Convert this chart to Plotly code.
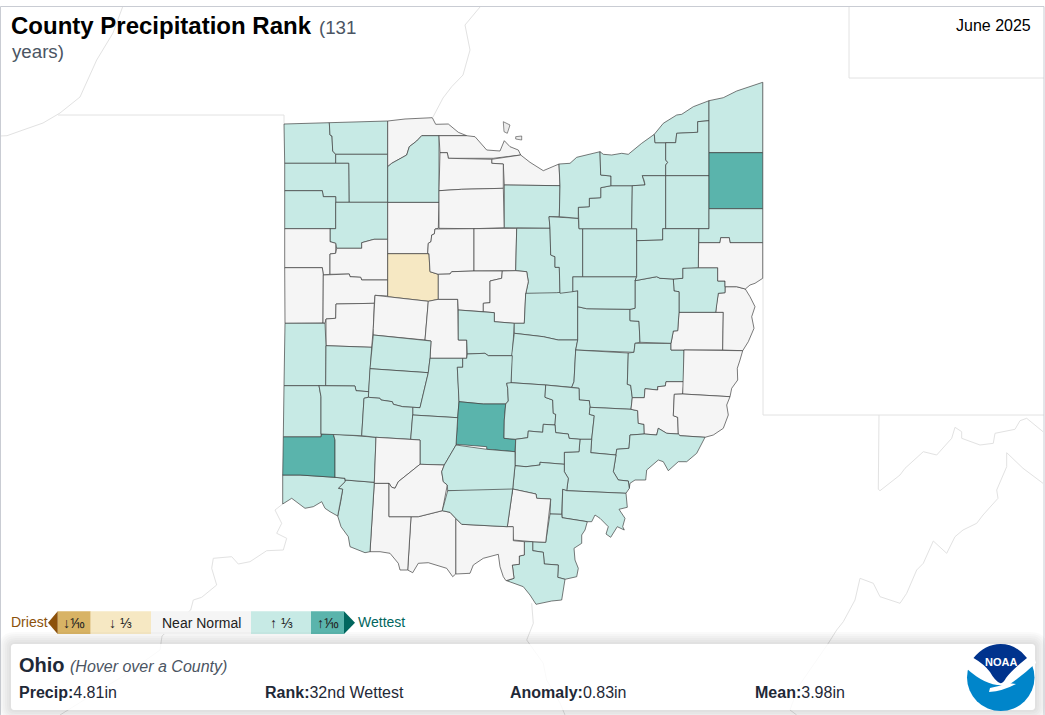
import plotly.graph_objects as go

# counties by rank class (June 2025)
dry_third = ["Hardin"]
wet_tenth = ["Trumbull", "Pickaway", "Butler"]
near_normal = ["Lucas", "Ottawa", "Erie", "Sandusky", "Seneca", "Hancock", "Wyandot", "Crawford",
               "Van Wert", "Mercer", "Allen", "Auglaize", "Shelby", "Logan", "Union", "Marion",
               "Morrow", "Columbiana", "Harrison", "Jefferson", "Belmont", "Monroe", "Noble",
               "Clinton", "Highland", "Brown", "Adams", "Scioto", "Jackson"]

# county outlines, in picture pixels
county_outlines = {
    "Williams": [(284, 124), (329.3, 122.7), (330, 135), (332, 136), (332.7, 151), (335.7, 154.3), (335.7, 163.3), (284.7, 163.3)],
    "Fulton": [(329.3, 122.7), (387.7, 121), (387.7, 154.3), (335.7, 154.3), (332.7, 151), (332, 136), (330, 135)],
    "Henry": [(335.7, 154.3), (387.7, 154.3), (387.7, 202.3), (349, 202.3), (348.7, 163.3), (335.7, 163.3)],
    "Defiance": [(284.7, 163.3), (348.7, 163.3), (349, 202.3), (335.7, 202.3), (335.7, 196.7), (323.3, 196.7), (322.3, 190.7), (284.7, 190.7)],
    "Paulding": [(284.7, 190.7), (322.3, 190.7), (323.3, 196.7), (335.7, 196.7), (335.7, 228.7), (284.7, 228.7)],
    "Putnam": [(335.7, 202.3), (387.7, 202.3), (387.7, 239.3), (374, 239.3), (361.7, 242.7), (361.7, 248.3), (336.7, 248.3), (335.7, 243.3), (330, 241.7), (330, 228.7), (335.7, 228.7)],
    "Van Wert": [(284.7, 228.7), (330, 228.7), (330, 241.7), (335.7, 243.3), (335.7, 253.3), (330, 254), (330, 274.3), (323.3, 275), (322.3, 267.7), (284.7, 267.7)],
    "Allen": [(335.7, 253.3), (336.7, 248.3), (361.7, 248.3), (361.7, 242.7), (374, 239.3), (387.7, 239.3), (387.7, 280), (361.7, 280), (360.7, 277.3), (350, 276.7), (349.3, 274), (330, 274.3), (330, 254)],
    "Mercer": [(284.7, 267.7), (322.3, 267.7), (323.3, 275), (323, 323), (285, 323.3)],
    "Auglaize": [(323.3, 275), (349.3, 274), (350, 276.7), (360.7, 277.3), (361.7, 280), (387.7, 280), (387.7, 296), (375, 295.3), (374.3, 303.3), (336, 304), (335.7, 318.3), (326, 319), (325, 323.3), (323, 323)],
    "Hancock": [(387.7, 202.3), (439, 202.3), (438.3, 228.3), (435, 229), (434.3, 234), (431.7, 235), (431, 241.7), (428.3, 243.3), (427.7, 253.7), (387.7, 253.7)],
    "Hardin": [(387.7, 253.7), (429, 253.7), (430, 271.7), (438.3, 274.3), (438.3, 299.3), (428.3, 301.3), (387.7, 296.7)],
    "Lucas": [(387.7, 121), (405, 119), (432.3, 117.7), (435.7, 124.3), (448.3, 124), (458.3, 132.3), (466.7, 135.7), (439, 135.7), (421.7, 135.7), (416.7, 141), (409.3, 146.7), (406.7, 155), (391.7, 163.3), (387.7, 166.7)],
    "Wood": [(387.7, 166.7), (391.7, 163.3), (406.7, 155), (409.3, 146.7), (416.7, 141), (421.7, 135.7), (439, 135.7), (439, 202.3), (387.7, 202.3)],
    "Ottawa": [(439, 135.7), (466.7, 135.7), (475, 136.7), (486.7, 150), (500, 151), (504.3, 140.7), (510, 146.7), (518.3, 150), (520.7, 155), (493.3, 158.3), (448.3, 158.3), (447.3, 152.7), (440, 152.7)],
    "Erie": [(491.7, 159.3), (520.7, 155), (530, 162.3), (543.3, 170.7), (559, 164), (560, 185.7), (504.3, 185), (503.3, 164), (491.7, 163.3)],
    "Sandusky": [(440, 152.7), (447.3, 152.7), (448.3, 158.3), (491.7, 159.3), (491.7, 163.3), (503.3, 164), (503.3, 188.3), (461.7, 189.3), (439, 190.7)],
    "Seneca": [(439, 190.7), (461.7, 189.3), (503.3, 188.3), (504.3, 227.7), (474, 228.7), (439, 228.3)],
    "Wyandot": [(435, 229), (474, 228.7), (474, 271), (451.7, 271.7), (450, 274), (438.3, 274.3), (430, 271.7), (429, 253.7), (427.7, 253.7), (428.3, 243.3), (431, 241.7), (431.7, 235), (434.3, 234)],
    "Crawford": [(474, 228.7), (516.7, 228.3), (515.7, 270.7), (474, 271)],
    "Huron": [(504.3, 185), (560, 185.7), (559.3, 216.7), (549, 216.7), (550, 228.3), (516.7, 228.3), (504.3, 227.7)],
    "Richland": [(516.7, 228.3), (550, 228.3), (550.7, 255), (555, 256.7), (555, 267.3), (559.3, 267.3), (560, 293.3), (525.7, 294), (528.3, 281.7), (526.7, 271.7), (515.7, 270.7)],
    "Shelby": [(336, 304), (374.3, 303.3), (373.3, 328.3), (371.7, 347.3), (326, 345.7), (326, 319), (335.7, 318.3)],
    "Logan": [(375, 295.3), (387.7, 296.7), (428.3, 301.3), (425, 340), (398.3, 337.7), (373.3, 335), (373.3, 328.3), (374.3, 303.3)],
    "Union": [(428.3, 301.3), (438.3, 299.3), (457.7, 299.3), (458.3, 340), (466.7, 340), (466.7, 358.3), (430, 358.3), (431, 341), (425, 340)],
    "Marion": [(438.3, 274.3), (450, 274), (451.7, 271.7), (474, 271), (502.3, 271), (501.7, 278.3), (490, 281), (490, 302.7), (483.3, 303.3), (483.3, 311.7), (458.3, 310), (457.7, 299.3), (438.3, 299.3)],
    "Morrow": [(502.3, 271), (515.7, 270.7), (526.7, 271.7), (528.3, 281.7), (525.7, 294), (524.3, 323.3), (514.3, 323.3), (494.3, 321.7), (494.3, 312.7), (483.3, 311.7), (483.3, 303.3), (490, 302.7), (490, 281), (501.7, 278.3)],
    "Delaware": [(458.3, 310), (483.3, 311.7), (494.3, 312.7), (494.3, 321.7), (514.3, 323.3), (512.3, 355.7), (488.3, 355.7), (485, 353.3), (467.3, 354), (466.7, 340), (458.3, 340)],
    "Knox": [(525.7, 293.3), (556.7, 292.7), (577.7, 290.7), (577.7, 306.7), (577.7, 340), (558.3, 340), (543.3, 336.7), (514.3, 333.3), (514.3, 323.3), (524.3, 323.3)],
    "Licking": [(514.3, 333.3), (543.3, 336.7), (558.3, 340), (577.7, 340), (575.7, 350), (574, 381.7), (571.7, 387.3), (545.7, 385), (511, 382.7), (511.7, 355)],
    "Coshocton": [(577.7, 306.7), (586.7, 308.7), (630, 309.3), (630, 320.7), (639, 321.3), (640, 342.3), (635, 343.3), (634, 352.3), (575.7, 350), (577.7, 340)],
    "Muskingum": [(575.7, 350), (628.3, 353), (627.3, 384.3), (630.7, 385.3), (632.3, 397.7), (631, 409.3), (590, 407.3), (589.3, 400.7), (579.3, 400), (579, 388.3), (571.7, 387.3), (574, 381.7)],
    "Guernsey": [(634, 352.3), (635, 343.3), (671, 343.3), (671, 350), (684, 350), (684, 381.7), (666, 381.7), (665.3, 386), (657.7, 386.7), (657.7, 390), (645, 388.7), (644.3, 397.7), (632.3, 397.7), (630.7, 385.3), (627.3, 384.3), (628.3, 353)],
    "Harrison": [(679, 312.3), (723.3, 312.3), (722.7, 350), (671, 350), (671, 343.3), (673.3, 331), (677.7, 330.7)],
    "Jefferson": [(725, 286.7), (736.7, 286.7), (745.3, 289), (750, 296.7), (755, 306.7), (751.7, 316.7), (754, 328.3), (748.3, 341.7), (742.7, 350.7), (722.7, 350), (723.3, 312.3), (715.7, 312.3), (716.7, 303.3), (718.3, 293.3), (725, 292.7)],
    "Carroll": [(682.7, 268.3), (686.7, 267.7), (717.7, 267.7), (717.7, 281), (725, 281), (725, 292.7), (718.3, 293.3), (716.7, 303.3), (715.7, 312.3), (679, 312.3), (679, 291.7), (674, 291), (673.3, 279), (682.7, 278.3)],
    "Tuscarawas": [(635, 280.7), (656.7, 276.7), (660, 278.3), (673.3, 279), (674, 291), (679, 291.7), (679, 312.3), (677.7, 330.7), (673.3, 331), (671, 343.3), (640, 342.3), (639, 321.3), (630, 320.7), (630, 309.3), (635, 308.3)],
    "Holmes": [(572.7, 276.7), (636.7, 276.7), (635, 280.7), (635, 308.3), (630, 309.3), (586.7, 308.7), (577.7, 306.7), (577.7, 290.7), (572.7, 291.7)],
    "Ashland": [(549, 216.7), (578.3, 218.3), (579, 228.7), (582.7, 228.7), (582.7, 276.7), (572.7, 276.7), (572.7, 291.7), (560, 293.3), (559.3, 267.3), (555, 267.3), (555, 256.7), (550.7, 255), (550, 228.3)],
    "Wayne": [(582.7, 228.7), (636.7, 228.7), (636.7, 276.7), (582.7, 276.7)],
    "Medina": [(578.3, 207.3), (589.3, 206.7), (589.3, 198.3), (600.7, 197.7), (600.7, 187.7), (611, 185.7), (632.3, 185.7), (631.7, 228.7), (579, 228.7)],
    "Lorain": [(559, 164), (570, 163.3), (576.7, 157.3), (600, 151.7), (600.7, 175), (611, 176), (611, 185.7), (600.7, 187.7), (600.7, 197.7), (589.3, 198.3), (589.3, 206.7), (578.3, 207.3), (578.3, 218.3), (559.3, 216.7), (560, 185.7)],
    "Cuyahoga": [(600, 151.7), (603.3, 154.3), (611.7, 155), (621.7, 153.3), (628.3, 154.3), (641.7, 143.3), (654.3, 134.3), (655, 142.7), (665.7, 142.7), (665.7, 160), (667.7, 162.3), (665.7, 165), (665.7, 175.7), (642.3, 175.7), (645, 185), (632.3, 185.7), (611, 185.7), (611, 176), (600.7, 175)],
    "Summit": [(642.3, 175.7), (665.7, 175.7), (665.7, 228.7), (662.7, 228.7), (662.7, 240), (636.7, 240.7), (636.7, 228.7), (631.7, 228.7), (632.3, 185.7), (645, 185), (644.3, 181)],
    "Lake": [(654.3, 134.3), (663.3, 123.3), (676.7, 115), (681.7, 114.3), (693.3, 106.7), (709, 100.7), (709, 120.7), (697.7, 121.7), (697.7, 132.3), (676.7, 133.3), (675.7, 142.7), (655, 142.7)],
    "Geauga": [(665.7, 142.7), (675.7, 142.7), (676.7, 133.3), (697.7, 132.3), (697.7, 121.7), (709, 120.7), (709, 175.7), (665.7, 175.7), (665.7, 165), (667.7, 162.3), (665.7, 160)],
    "Portage": [(665.7, 175.7), (709, 175.7), (709, 228.7), (665.7, 228.7)],
    "Ashtabula": [(709, 100.7), (723.3, 97.7), (736.7, 91), (762.7, 82.3), (762.7, 152.7), (709, 152.7)],
    "Trumbull": [(709, 152.7), (762.7, 152.7), (762.7, 208.7), (709, 208.7)],
    "Mahoning": [(709, 208.7), (762.7, 208.7), (762.7, 242.7), (730, 242.7), (729.3, 237.7), (720.7, 237.7), (720, 242.7), (698.7, 242.7), (698.7, 228.7), (709, 228.7)],
    "Columbiana": [(698.7, 242.7), (720, 242.7), (720.7, 237.7), (729.3, 237.7), (730, 242.7), (762.7, 242.7), (762.7, 278.3), (755, 283.3), (750, 285), (745.3, 289), (736.7, 286.7), (725, 286.7), (725, 281), (717.7, 281), (717.7, 267.7), (698.3, 267.7)],
    "Stark": [(636.7, 240.7), (662.7, 240), (662.7, 228.7), (698.7, 228.7), (698.3, 267.7), (686.7, 267.7), (682.7, 268.3), (682.7, 278.3), (673.3, 279), (660, 278.3), (656.7, 276.7), (635, 280.7), (636.7, 276.7)],
    "Darke": [(285, 323.3), (325, 323.3), (326, 345.7), (325.7, 385.7), (319, 385.7), (284, 385.7)],
    "Miami": [(326, 345.7), (371.7, 347.3), (368.7, 391.7), (356, 390.7), (355, 386), (325.7, 385.7)],
    "Champaign": [(373.3, 335), (398.3, 337.7), (425, 340), (431, 341), (430, 358.3), (428.3, 372.7), (370, 368.7)],
    "Clark": [(370, 368.7), (428.3, 372.7), (420, 407.7), (412.7, 407.3), (402.7, 406.7), (393.3, 404.3), (392.3, 401.7), (381, 400), (380, 398.3), (368.3, 397.3), (368.7, 391.7)],
    "Madison": [(430, 358.3), (462.7, 358.3), (462.7, 367.3), (457.3, 367.3), (458.3, 385), (459, 401.7), (457.7, 417.7), (412.7, 415), (412.7, 407.3), (420, 407.7), (428.3, 372.7)],
    "Franklin": [(462.7, 358.3), (466.7, 358.3), (467.3, 354), (485, 353.3), (488.3, 355.7), (512.3, 355.7), (511, 383.3), (506.7, 383.3), (507.7, 388.3), (508.3, 401), (505.7, 404), (483.3, 404), (459, 401.7), (458.3, 385), (457.3, 367.3), (462.7, 367.3)],
    "Pickaway": [(459, 401.7), (483.3, 404), (505.7, 404), (504.3, 420), (504, 438.3), (515.7, 439.3), (515, 451.7), (486.7, 449.3), (486.7, 446.7), (456, 444.3), (457.7, 417.7)],
    "Fairfield": [(511, 382.7), (545.7, 385), (545, 397.3), (552.7, 400), (553.3, 413.3), (555.7, 414.3), (555, 425), (543.3, 424.3), (542.7, 432.3), (528.3, 431), (527.7, 437.7), (515.7, 439.3), (504, 438.3), (504.3, 420), (505.7, 404), (508.3, 401), (507.7, 388.3), (506.7, 383.3)],
    "Perry": [(545.7, 385), (571.7, 387.3), (579, 388.3), (579.3, 400), (589.3, 400.7), (590, 407.3), (589.3, 414.3), (594.3, 415.7), (591.7, 439.3), (580, 439.3), (569, 438.3), (568.3, 434), (555.7, 432.7), (555, 425), (555.7, 414.3), (553.3, 413.3), (552.7, 400), (545, 397.3)],
    "Morgan": [(590, 407.3), (631, 409.3), (637.7, 410.7), (638.3, 423.3), (644, 424.3), (644.3, 434), (630, 435), (629, 448.3), (616.7, 449.3), (616, 455), (590.7, 452.7), (591.7, 439.3), (594.3, 415.7), (589.3, 414.3)],
    "Noble": [(632.3, 397.7), (644.3, 397.7), (645, 388.7), (657.7, 390), (657.7, 386.7), (665.3, 386), (666, 381.7), (684, 381.7), (682.7, 394), (674.3, 394.3), (673.3, 415.7), (677.7, 417.3), (678.3, 434), (666.7, 433.3), (658.3, 428.3), (656.7, 435), (644.3, 434), (644, 424.3), (638.3, 423.3), (637.7, 410.7), (631, 409.3)],
    "Belmont": [(684, 350), (742.7, 350.7), (740, 360), (737.3, 368.3), (737.7, 380), (731.7, 388.3), (730, 396.7), (682.7, 394)],
    "Monroe": [(674.3, 394.3), (682.7, 394), (730, 396.7), (726.7, 405), (728.3, 415), (723.3, 428.3), (713.3, 435), (705, 437.3), (680, 435.7), (678.3, 434), (677.7, 417.3), (673.3, 415.7)],
    "Washington": [(630, 435), (644.3, 434), (656.7, 435), (658.3, 428.3), (666.7, 433.3), (678.3, 434), (680, 435.7), (705, 437.3), (696.7, 453.3), (686.7, 461.7), (678.3, 461.7), (668.3, 470.7), (663.3, 461.7), (658.3, 460), (646.7, 470), (645.7, 480), (635, 480), (630, 483.3), (629.3, 488.3), (628.3, 481), (618.3, 480), (613.3, 471.7), (616, 455), (616.7, 449.3), (629, 448.3)],
    "Athens": [(580, 439.3), (591.7, 439.3), (590.7, 452.7), (616, 455), (613.3, 471.7), (618.3, 480), (628.3, 481), (629.3, 488.3), (626, 493.3), (566.7, 490.7), (568.3, 478.3), (564.3, 471.7), (564.3, 452.3), (579, 451.7)],
    "Hocking": [(515.7, 439.3), (527.7, 437.7), (528.3, 431), (542.7, 432.3), (543.3, 424.3), (555, 425), (555.7, 432.7), (568.3, 434), (569, 438.3), (580, 439.3), (579, 451.7), (564.3, 452.3), (564.3, 464.3), (540, 462.3), (540, 465), (526, 466.7), (515, 465.7), (515, 451.7)],
    "Vinton": [(515, 465.7), (526, 466.7), (540, 465), (540, 462.3), (564.3, 464.3), (564.3, 471.7), (568.3, 478.3), (566.7, 490.7), (562.7, 489.3), (561.7, 514.3), (550, 514), (550.7, 499), (536.7, 498.3), (536, 494), (512.7, 489)],
    "Meigs": [(562.7, 489.3), (566.7, 490.7), (626, 493.3), (627.3, 507.3), (619, 509.3), (625, 518.3), (622.7, 526.7), (624.3, 530), (617.3, 526.7), (610.7, 537.3), (606, 534), (608.3, 526.7), (600, 518.3), (595, 515), (591.7, 521.7), (587.3, 521.7), (562, 517.7)],
    "Gallia": [(550, 514), (561.7, 514.3), (562, 517.7), (587.3, 521.7), (585, 530), (581.7, 535), (581.7, 543.3), (574, 548.3), (575, 560), (578.3, 568.3), (576.7, 576.7), (565, 579.3), (557.7, 577.3), (558.3, 565), (544.3, 564), (543.3, 552.3), (532.7, 550.7), (532.7, 541.7), (545.7, 542.3)],
    "Jackson": [(512.7, 489), (536, 494), (536.7, 498.3), (550.7, 499), (545.7, 542.3), (532.7, 541.7), (513.3, 540), (512.7, 526.7), (507.3, 526.7)],
    "Lawrence": [(524.3, 541.7), (532.7, 541.7), (532.7, 550.7), (543.3, 552.3), (544.3, 564), (558.3, 565), (557.7, 577.3), (565, 579.3), (561.7, 600), (551.7, 601), (536, 604.3), (530, 595), (523.3, 586.7), (506.7, 580.7), (514, 578.3), (512.3, 565), (519.3, 564.3), (519.3, 556), (524.3, 555)],
    "Scioto": [(455.7, 518.3), (461.7, 524.3), (506.7, 526.7), (513.3, 526.7), (513.3, 540.7), (524.3, 541.7), (524.3, 555), (519.3, 556), (519.3, 564.3), (512.3, 565), (514, 578.3), (506, 580.7), (503.3, 576.7), (500, 566.7), (498.3, 554.3), (483.3, 558.3), (473.3, 565), (470, 573.3), (455.7, 574)],
    "Adams": [(411, 516.7), (418.3, 516.7), (442.3, 510.7), (450, 512.3), (455.7, 518.3), (455.7, 574), (452.7, 576.7), (446.7, 568.3), (428.3, 562.7), (418.3, 563.3), (412.7, 572.7), (407.7, 570)],
    "Brown": [(374.3, 483.3), (389, 483.3), (389, 516.7), (411, 516.7), (407.7, 570), (400, 570), (398.3, 563.3), (390, 553.3), (380, 551.7), (370, 551.7)],
    "Clermont": [(345, 480), (374.3, 482.3), (370, 551.7), (365, 552.7), (350, 546.7), (348.3, 536.7), (341, 526.7), (337.7, 516), (340.7, 501.7), (342.7, 489.3), (338.3, 488.3), (345, 481.7)],
    "Hamilton": [(282.7, 475), (300, 475), (335, 477.3), (345, 478.3), (345, 481.7), (338.3, 488.3), (342.7, 489.3), (340.7, 501.7), (337.7, 516), (330, 511.7), (325, 508.3), (321.7, 501.7), (313.3, 506.7), (305, 508.3), (291.7, 498.3), (282.7, 504)],
    "Butler": [(283.3, 436.7), (321, 436.7), (321.7, 434), (333.3, 434), (335, 440), (335, 477.3), (300, 475), (282.7, 475)],
    "Warren": [(333.3, 434), (361.7, 435.7), (376, 437.3), (374.3, 482.3), (345, 480), (345, 478.3), (335, 477.3), (335, 440)],
    "Preble": [(284, 385.7), (319, 385.7), (321, 396.7), (321, 436.7), (283.3, 436.7)],
    "Montgomery": [(319, 385.7), (355, 386), (356, 390.7), (368.7, 391.7), (368.3, 397.3), (364, 398.3), (361.7, 435.7), (333.3, 434), (321, 434), (321, 396.7)],
    "Greene": [(364, 398.3), (368.3, 397.3), (380, 398.3), (381, 400), (392.3, 401.7), (393.3, 404.3), (402.7, 406.7), (412.7, 407.3), (412.7, 415), (410.7, 439.3), (376, 437.3), (361.7, 435.7)],
    "Fayette": [(412.7, 415), (457.7, 417.7), (456, 445), (444.3, 465), (420, 464.3), (420, 440), (410.7, 439.3)],
    "Clinton": [(376, 437.3), (410.7, 439.3), (420, 440), (420, 464.3), (398.3, 481.7), (395, 488.3), (391.7, 487.3), (389, 483.3), (374.3, 483.3)],
    "Highland": [(420, 464.3), (444.3, 465), (441.7, 471.7), (443.3, 481.7), (447.3, 485), (442.3, 510.7), (418.3, 516.7), (389, 516.7), (389, 483.3), (391.7, 487.3), (395, 488.3), (398.3, 481.7)],
    "Ross": [(456, 445), (486.7, 449.3), (515, 451.7), (515, 465.7), (512.7, 489), (511.7, 494.3), (447.7, 490.7), (447.3, 485), (443.3, 481.7), (441.7, 471.7), (444.3, 465)],
    "Pike": [(447.7, 490.7), (512.7, 489), (507.3, 526.7), (461.7, 524.3), (455.7, 518.3), (450, 512.3), (442.3, 510.7)],
}

# lake erie islands
island_a = [(503.3, 121.7), (510, 125), (507.3, 133.3), (504, 131.7)]
island_b = [(515.7, 136.7), (521.7, 136), (521.7, 140), (515.7, 139)]

# neighbouring state lines
indiana_top = [(58, 115), (284, 115), (284, 124)]
lake_michigan = [(122.7, 6.7), (113, 33), (96.7, 60), (88, 80), (80, 97), (60, 113), (43, 123), (23, 130), (7, 135.7), (0, 136)]
michigan_shore = [(433, 117), (443, 98), (451.7, 86.7), (463, 75), (470, 50), (465, 25), (480, 7)]
new_york = [(849, 7), (849, 78), (1044, 78)]
pennsylvania = [(763, 82), (763, 415), (1044, 415)]
west_virginia = [(879, 415), (878.3, 489.3), (880, 490.7), (900, 475), (905, 468.3), (923.3, 451.7), (936.7, 455), (951.7, 438.3),
                 (955, 427.3), (961.7, 431.7), (961.7, 438.3), (980, 445), (993.3, 443.3), (995, 433.3), (1015, 429.3), (1020, 420.7),
                 (1026.7, 418.3), (1043, 431.7)]
virginia = [(1043, 483.3), (1023, 468.3), (1006.7, 452.7), (1006.7, 466.7), (996.7, 490), (998, 498.3), (983, 515), (976.7, 523.3),
            (963, 530), (955, 536.7), (946.7, 553.3), (933.3, 541), (923.3, 563.3), (916.7, 570), (906.7, 593.3), (900, 603.3),
            (880, 596.7), (873.3, 583.3), (860, 578.3), (855, 600), (843.3, 621.7), (836.7, 630), (828.3, 643.3), (798.3, 686.7),
            (790, 710), (796.7, 715)]
kentucky = [(282.7, 504), (275, 510), (281.7, 523.3), (276.7, 533.3), (286.7, 538.3), (283.3, 550), (266.7, 550.7), (250, 561.7),
            (238.3, 564), (231.7, 556.7), (213.3, 558.3), (211.7, 568.3), (216.7, 585), (201.7, 597.3), (193.3, 600), (190.7, 610),
            (162, 636), (160, 650), (125, 675), (100, 690), (60, 715)]
kentucky_east = [(531.7, 603.3), (533.3, 623.3), (526.7, 640), (543.3, 663.3), (546.7, 680), (560, 703), (565, 715)]
state_lines = [indiana_top, lake_michigan, michigan_shore, new_york, pennsylvania, west_virginia, virginia, kentucky, kentucky_east]

# legend
legend_labels = ["↓⅒", "↓ ⅓", "Near Normal", "↑ ⅓", "↑⅒"]
legend_colors = ["#d8b365", "#f6e8c3", "#f5f5f5", "#c7eae5", "#5ab4ac"]
legend_edges = [57.7, 90.7, 151, 251, 311, 344]

# info panel
panel_labels = ["Precip:", "Rank:", "Anomaly:", "Mean:"]
panel_values = ["4.81in", "32nd Wettest", "0.83in", "3.98in"]
panel_left = [18, 264, 509, 754]

FONT = "Liberation Sans, Arial, sans-serif"
W, H = 1045, 715


def county_color(name):
    if name in wet_tenth:
        return "#5ab4ac"
    if name in dry_third:
        return "#f6e8c3"
    if name in near_normal:
        return "#f5f5f5"
    return "#c7eae5"


def label(x, y, text, size=16, color="#1f2937", anchor="left"):
    return dict(x=x, y=y, text=text, xref="x", yref="y", showarrow=False, xanchor=anchor, yanchor="middle",
                font=dict(family=FONT, size=size, color=color), borderpad=0)


def rounded_rect(x0, y0, x1, y1, r):
    return (f"M{x0+r},{y0} L{x1-r},{y0} Q{x1},{y0} {x1},{y0+r} L{x1},{y1-r} Q{x1},{y1} {x1-r},{y1} "
            f"L{x0+r},{y1} Q{x0},{y1} {x0},{y1-r} L{x0},{y0+r} Q{x0},{y0} {x0+r},{y0} Z")


fig = go.Figure()

for line in state_lines:
    fig.add_trace(go.Scatter(x=[p[0] for p in line], y=[p[1] for p in line], mode="lines",
                             line=dict(color="#e2e2e2", width=1), hoverinfo="skip"))

for island in [island_a, island_b]:
    ring = island + island[:1]
    fig.add_trace(go.Scatter(x=[p[0] for p in ring], y=[p[1] for p in ring], mode="lines", fill="toself",
                             fillcolor="#ececec", line=dict(color="rgba(70,70,70,0.6)", width=1), hoverinfo="skip"))

# half transparent strokes: shared borders come out darker than the outer edge
for name, outline in county_outlines.items():
    ring = outline + outline[:1]
    fig.add_trace(go.Scatter(x=[p[0] for p in ring], y=[p[1] for p in ring], mode="lines", fill="toself",
                             fillcolor=county_color(name), line=dict(color="rgba(60,60,60,0.68)", width=1),
                             name=name, hoverinfo="name"))

shapes = []
# frame of the map
shapes.append(dict(type="rect", x0=0.5, y0=6.5, x1=1044, y1=716, line=dict(color="#c9ccd3", width=1)))

# legend swatches and arrow heads
for i, color in enumerate(legend_colors):
    shapes.append(dict(type="rect", x0=legend_edges[i], x1=legend_edges[i + 1], y0=611.3, y1=634,
                       fillcolor=color, line=dict(width=0)))
shapes.append(dict(type="path", path=f"M{legend_edges[0]},611.3 L48,622.7 L{legend_edges[0]},634 Z",
                   fillcolor="#8c510a", line=dict(width=0)))
shapes.append(dict(type="path", path=f"M{legend_edges[-1]},611.3 L355,622.7 L{legend_edges[-1]},634 Z",
                   fillcolor="#01665e", line=dict(width=0)))

# panel with a soft shadow, rings so the panel itself stays white
panel_path = rounded_rect(11, 644, 1035, 710, 4)
for grow in range(12, 0, -2):
    shapes.append(dict(type="path", path=rounded_rect(11 - grow, 644 - grow, 1035 + grow, 710 + grow, 4 + grow) + " " + panel_path,
                       fillcolor="rgba(0,0,0,0.018)", line=dict(width=0), fillrule="evenodd"))
shapes.append(dict(type="path", path=panel_path, fillcolor="rgba(255,255,255,0.82)", line=dict(width=0)))

# noaa logo
shapes.append(dict(type="circle", x0=967, y0=644, x1=1034.5, y1=711, fillcolor="#0085ca", line=dict(width=0)))
shapes.append(dict(type="path", path="M966,668 L972,644 L1030,644 L1036,663 Q1022,676 1010,684 Q990,690 966,668 Z",
                   fillcolor="#ffffff", line=dict(width=0)))
shapes.append(dict(type="path", path="M973.5,658 Q985,644 1000.5,644 Q1016,644 1027,658 Q1012,670 1006,678 Q1003,684 1000,683 "
                                     "Q995,681 990,672 Q984,664 973.5,658 Z",
                   fillcolor="#00338d", line=dict(width=0)))
shapes.append(dict(type="path", path="M989,692 Q1003,691 1016,684 L1008,683 Q1000,686 990,688 Z",
                   fillcolor="#ffffff", line=dict(width=0)))

notes = [
    label(10, 25, "<b>County Precipitation Rank</b>", size=24, color="#000000"),
    label(317.5, 27, "(131", size=18.7, color="#4b5563"),
    label(10.5, 51, "years)", size=18.7, color="#4b5563"),
    label(1032, 25, "June 2025", size=16, color="#000000", anchor="right"),
    label(10, 622, "Driest", size=14, color="#8c510a"),
    label(357, 622, "Wettest", size=14, color="#01665e"),
    label(18, 665, "<b>Ohio</b>", size=20, color="#1f2937"),
    label(69, 666, "<i>(Hover over a County)</i>", size=16, color="#4b5563"),
    label(1000.7, 661.5, "<b>NOAA</b>", size=11, color="#ffffff", anchor="center"),
]
for i, text in enumerate(legend_labels):
    notes.append(label((legend_edges[i] + legend_edges[i + 1]) / 2, 623, text,
                       size=14, color="#222222", anchor="center"))
for x, name, value in zip(panel_left, panel_labels, panel_values):
    notes.append(label(x, 692, f"<b>{name}</b>{value}", size=16, color="#1f2937"))

fig.update_layout(
    width=W, height=H,
    margin=dict(l=0, r=0, t=0, b=0),
    paper_bgcolor="white", plot_bgcolor="white",
    showlegend=False,
    xaxis=dict(range=[0, W], visible=False, fixedrange=True),
    yaxis=dict(range=[H, 0], visible=False, fixedrange=True),
    shapes=shapes,
    annotations=notes,
)

fig.write_html("out.html", config={"displayModeBar": False},
               post_script="document.body.style.margin='0';")
